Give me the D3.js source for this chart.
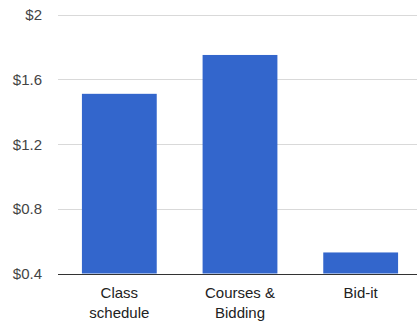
<!DOCTYPE html>
<meta charset="utf-8">
<script src="https://d3js.org/d3.v7.min.js"></script>
<style>
  body { margin: 0; background: #fff; }
  svg { font-family: 'Liberation Sans', Arial, sans-serif; }
</style>
<body>
<div id="chart"></div>
<script>

var categories = [["Class", "schedule"], ["Courses &", "Bidding"], ["Bid-it"]]
var values = [1.51, 1.75, 0.53]
var ticks = [0.4, 0.8, 1.2, 1.6, 2]

var width = 417,
    height = 324,
    margin = {top: 14.5, right: -4, bottom: 50.5, left: 59}

var svg = d3.select("#chart")
  .append("svg")
    .attr("width", width)
    .attr("height", height)

var x = d3.scaleBand()
  .domain(d3.range(values.length))
  .range([margin.left, width - margin.right])
  .paddingInner(0.38)
  .paddingOuter(0.19)

var y = d3.scaleLinear()
  .domain([0.4, 2])
  .range([height - margin.bottom, margin.top])

// gridlines
svg.selectAll("line.grid")
  .data(ticks.slice(1))
  .enter()
  .append("line")
    .attr("x1", 58)
    .attr("x2", width)
    .attr("y1", function(d) { return Math.round(y(d)) + 0.5 })
    .attr("y2", function(d) { return Math.round(y(d)) + 0.5 })
    .attr("stroke", "#d9d9d9")
    .attr("stroke-width", 1)

svg.selectAll("text.ytick")
  .data(ticks)
  .enter()
  .append("text")
    .attr("x", 42)
    .attr("y", function(d) { return y(d) + 5.5 })
    .attr("text-anchor", "end")
    .style("font-size", "15px")
    .style("fill", "#444")
    .text(function(d) { return "$" + d3.format("~g")(d) })

svg.selectAll("rect.bar")
  .data(values)
  .enter()
  .append("rect")
    .attr("x", function(d, i) { return x(i) })
    .attr("width", x.bandwidth())
    .attr("y", function(d) { return y(d) })
    .attr("height", function(d) { return y(0.4) - y(d) })
    .attr("fill", "#3366cc")

// baseline
svg.append("line")
  .attr("x1", 58)
  .attr("x2", width)
  .attr("y1", Math.round(y(0.4)) + 0.5)
  .attr("y2", Math.round(y(0.4)) + 0.5)
  .attr("stroke", "#333")
  .attr("stroke-width", 1)

var labels = svg.selectAll("text.xlab")
  .data(categories)
  .enter()
  .append("text")
    .attr("text-anchor", "middle")
    .style("font-size", "15px")
    .style("fill", "#222")

labels.selectAll("tspan")
  .data(function(d, i) { return d.map(function(t) { return {t: t, i: i} }) })
  .enter()
  .append("tspan")
    .attr("x", function(d) { return x(d.i) + x.bandwidth() / 2 })
    .attr("y", function(d, j) { return 298 + j * 20 })
    .text(function(d) { return d.t })

</script>
</body>
